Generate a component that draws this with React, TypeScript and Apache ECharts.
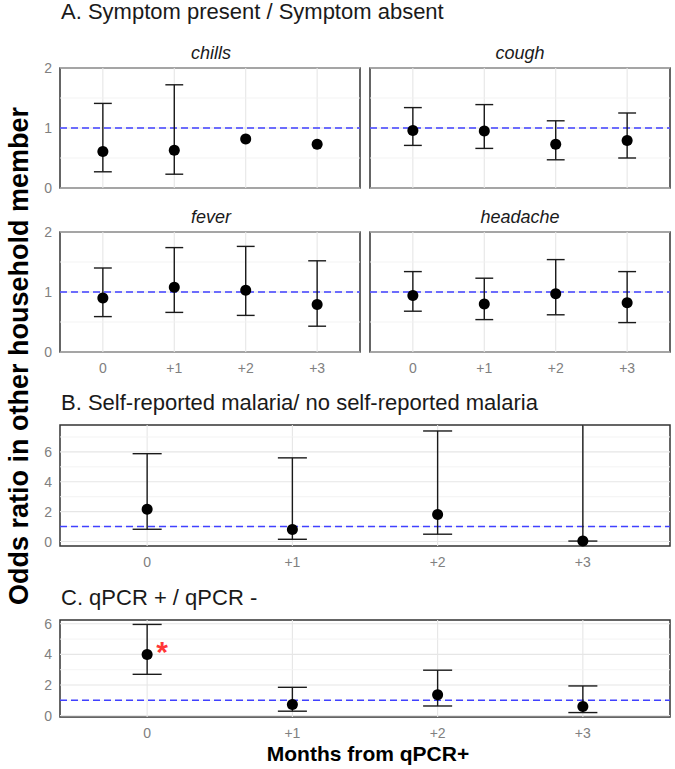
import React, { useEffect, useRef } from 'react';
import * as echarts from 'echarts';

// Months relative to the qPCR+ visit
const monthPos = [0, 1, 2, 3];
const monthLabels = ['0', '+1', '+2', '+3'];

// A. Symptom present / Symptom absent (odds ratio with 95% CI)
const chillsOR = [0.61, 0.63, 0.815, 0.73];
const chillsLow = [0.27, 0.23, null, null];
const chillsHigh = [1.41, 1.72, null, null];

const coughOR = [0.96, 0.95, 0.73, 0.79];
const coughLow = [0.71, 0.66, 0.47, 0.5];
const coughHigh = [1.34, 1.39, 1.12, 1.25];

const feverOR = [0.9, 1.08, 1.03, 0.79];
const feverLow = [0.59, 0.66, 0.61, 0.43];
const feverHigh = [1.4, 1.74, 1.76, 1.52];

const headacheOR = [0.94, 0.8, 0.97, 0.82];
const headacheLow = [0.68, 0.54, 0.62, 0.49];
const headacheHigh = [1.34, 1.23, 1.54, 1.34];

// B. Self-reported malaria / no self-reported malaria
const malariaOR = [2.16, 0.8, 1.81, 0.04];
const malariaLow = [0.82, 0.15, 0.49, 0.03];
const malariaHigh = [5.88, 5.6, 7.4, 12.0];

// C. qPCR + / qPCR -
const qpcrOR = [4.0, 0.72, 1.37, 0.59];
const qpcrLow = [2.7, 0.29, 0.63, 0.2];
const qpcrHigh = [5.96, 1.85, 2.97, 1.94];

// Significant estimates flagged with an asterisk (month, OR)
const qpcrSignificant = [[0, 4.0]];

const referenceOR = 1;

const symptomTicks = [0, 1, 2];
const wideTicks = [0, 2, 4, 6];

type Panel = {
  name: string;
  or: number[];
  low: (number | null)[];
  high: (number | null)[];
  grid: { left: number; top: number; width: number; height: number };
  yMin: number;
  yMax: number;
  yTicks: number[];
  yMinor: number[];
  showY: boolean;
  showX: boolean;
  cap: number;
};

const FONT = '"Liberation Sans", Arial, Helvetica, sans-serif';
const GRID_MAJOR = '#e6e6e6';
const GRID_MINOR = '#f2f2f2';
const TICK_COLOR = '#808080';

export default function App() {
  const ref = useRef<HTMLDivElement>(null);

  useEffect(() => {
    if (!ref.current) return;
    const chart = echarts.init(ref.current, null, { renderer: 'svg' });

    const panels: Panel[] = [
      {
        name: 'chills', or: chillsOR, low: chillsLow, high: chillsHigh,
        grid: { left: 60, top: 68, width: 300, height: 120 },
        yMin: 0, yMax: 2, yTicks: symptomTicks, yMinor: [0.5, 1.5], showY: true, showX: false, cap: 0.125,
      },
      {
        name: 'cough', or: coughOR, low: coughLow, high: coughHigh,
        grid: { left: 370, top: 68, width: 300, height: 120 },
        yMin: 0, yMax: 2, yTicks: symptomTicks, yMinor: [0.5, 1.5], showY: false, showX: false, cap: 0.125,
      },
      {
        name: 'fever', or: feverOR, low: feverLow, high: feverHigh,
        grid: { left: 60, top: 232, width: 300, height: 120 },
        yMin: 0, yMax: 2, yTicks: symptomTicks, yMinor: [0.5, 1.5], showY: true, showX: true, cap: 0.125,
      },
      {
        name: 'headache', or: headacheOR, low: headacheLow, high: headacheHigh,
        grid: { left: 370, top: 232, width: 300, height: 120 },
        yMin: 0, yMax: 2, yTicks: symptomTicks, yMinor: [0.5, 1.5], showY: false, showX: true, cap: 0.125,
      },
      {
        name: 'malaria', or: malariaOR, low: malariaLow, high: malariaHigh,
        grid: { left: 60, top: 425, width: 610, height: 121 },
        yMin: -0.3, yMax: 7.8, yTicks: wideTicks, yMinor: [1, 3, 5, 7], showY: true, showX: true, cap: 0.1,
      },
      {
        name: 'qpcr', or: qpcrOR, low: qpcrLow, high: qpcrHigh,
        grid: { left: 60, top: 620, width: 610, height: 97 },
        yMin: -0.09, yMax: 6.25, yTicks: wideTicks, yMinor: [1, 3, 5], showY: true, showX: true, cap: 0.1,
      },
    ];

    const grid: any[] = [];
    const xAxis: any[] = [];
    const yAxis: any[] = [];
    const series: any[] = [];

    panels.forEach((p, i) => {
      grid.push({
        ...p.grid,
        show: true,
        borderColor: '#333333',
        borderWidth: 1.5,
        backgroundColor: 'transparent',
        containLabel: false,
      });
      xAxis.push({
        type: 'value',
        gridIndex: i,
        min: -0.6,
        max: 3.6,
        axisLine: { show: false },
        axisTick: { show: false },
        splitLine: { show: false },
        axisLabel: {
          show: p.showX,
          customValues: monthPos,
          formatter: (v: number) => monthLabels[Math.round(v)] ?? '',
          color: TICK_COLOR,
          fontSize: 14,
          fontFamily: FONT,
          margin: 9,
        },
      });
      yAxis.push({
        type: 'value',
        gridIndex: i,
        min: p.yMin,
        max: p.yMax,
        axisLine: { show: false },
        axisTick: { show: false },
        splitLine: { show: false },
        axisLabel: {
          show: p.showY,
          customValues: p.yTicks,
          color: TICK_COLOR,
          fontSize: 14,
          fontFamily: FONT,
          margin: 8,
        },
      });

      // Panel grid lines: vertical at each month, horizontal majors and minors
      const rules: any[] = [
        ...monthPos.map((m) => [0, m, 1]),
        ...p.yTicks.map((v) => [1, v, 1]),
        ...p.yMinor.map((v) => [1, v, 0]),
      ];
      series.push({
        type: 'custom',
        xAxisIndex: i,
        yAxisIndex: i,
        z: 1,
        silent: true,
        data: rules,
        encode: { x: 1, y: 1 },
        renderItem: (params: any, api: any) => {
          const cs = params.coordSys;
          const vertical = api.value(0) === 0;
          const v = api.value(1);
          const major = api.value(2) === 1;
          const style = { stroke: major ? GRID_MAJOR : GRID_MINOR, lineWidth: major ? 1.1 : 0.9 };
          if (vertical) {
            const x = api.coord([v, p.yMin])[0];
            return { type: 'line', shape: { x1: x, y1: cs.y, x2: x, y2: cs.y + cs.height }, style };
          }
          const y = api.coord([0, v])[1];
          if (y < cs.y || y > cs.y + cs.height) return null;
          return { type: 'line', shape: { x1: cs.x, y1: y, x2: cs.x + cs.width, y2: y }, style };
        },
      });

      // Dashed reference line at OR = 1
      series.push({
        type: 'custom',
        xAxisIndex: i,
        yAxisIndex: i,
        z: 2,
        silent: true,
        data: [[0, referenceOR]],
        renderItem: (params: any, api: any) => {
          const cs = params.coordSys;
          const y = api.coord([0, api.value(1)])[1];
          return {
            type: 'line',
            shape: { x1: cs.x, y1: y, x2: cs.x + cs.width, y2: y },
            style: { stroke: '#4040ff', lineWidth: 1.5, lineDash: [7, 4] },
          };
        },
      });

      // Confidence-interval error bars
      const bars = monthPos
        .map((m, k) => [m, p.low[k], p.high[k]])
        .filter((d) => d[1] != null && d[2] != null);
      series.push({
        type: 'custom',
        xAxisIndex: i,
        yAxisIndex: i,
        z: 3,
        silent: true,
        data: bars,
        encode: { x: 0, y: [1, 2] },
        renderItem: (params: any, api: any) => {
          const cs = params.coordSys;
          const m = api.value(0);
          const lo = api.value(1);
          const hi = api.value(2);
          const x = api.coord([m, lo])[0];
          const half = api.size([p.cap, 0])[0];
          const yLo = api.coord([m, lo])[1];
          const yHiRaw = api.coord([m, hi])[1];
          const clipped = yHiRaw < cs.y;
          const yHi = clipped ? cs.y : yHiRaw;
          const style = { stroke: '#1a1a1a', lineWidth: 1.4 };
          const children: any[] = [
            { type: 'line', shape: { x1: x, y1: yLo, x2: x, y2: yHi }, style },
            { type: 'line', shape: { x1: x - half, y1: yLo, x2: x + half, y2: yLo }, style },
          ];
          if (!clipped) {
            children.push({ type: 'line', shape: { x1: x - half, y1: yHi, x2: x + half, y2: yHi }, style });
          }
          return { type: 'group', children };
        },
      });

      // Point estimates
      series.push({
        type: 'scatter',
        xAxisIndex: i,
        yAxisIndex: i,
        z: 4,
        silent: true,
        symbol: 'circle',
        symbolSize: 11,
        itemStyle: { color: '#000000', opacity: 1 },
        data: monthPos.map((m, k) => [m, p.or[k]]),
      });
    });

    // Significance marker in panel C
    series.push({
      type: 'scatter',
      xAxisIndex: 5,
      yAxisIndex: 5,
      z: 5,
      silent: true,
      symbolSize: 0,
      data: qpcrSignificant,
      label: {
        show: true,
        position: 'inside',
        offset: [15, -3],
        formatter: '*',
        color: '#ff0000',
        fontSize: 30,
        fontWeight: 'bold',
        fontFamily: FONT,
      },
    });

    const headingStyle = { fill: '#1a1a1a', fontSize: 22, fontFamily: FONT, verticalAlign: 'middle' };
    const stripStyle = { fill: '#1a1a1a', fontSize: 18, fontStyle: 'italic', fontFamily: FONT, align: 'center', verticalAlign: 'middle' };

    const graphic: any[] = [
      { type: 'text', x: 61, y: 11.5, style: { ...headingStyle, text: 'A. Symptom present / Symptom absent' } },
      { type: 'text', x: 61, y: 402.5, style: { ...headingStyle, text: 'B. Self-reported malaria/ no self-reported malaria' } },
      { type: 'text', x: 61, y: 597.5, style: { ...headingStyle, text: 'C. qPCR + / qPCR -' } },
      { type: 'text', x: 211, y: 52.5, style: { ...stripStyle, text: 'chills' } },
      { type: 'text', x: 520, y: 52.5, style: { ...stripStyle, text: 'cough' } },
      { type: 'text', x: 211, y: 216.5, style: { ...stripStyle, text: 'fever' } },
      { type: 'text', x: 520, y: 216.5, style: { ...stripStyle, text: 'headache' } },
      {
        type: 'text',
        x: 368,
        y: 753,
        style: { text: 'Months from qPCR+', fill: '#000', fontSize: 21, fontWeight: 'bold', fontFamily: FONT, align: 'center', verticalAlign: 'middle' },
      },
      {
        type: 'text',
        x: 19,
        y: 356,
        rotation: Math.PI / 2,
        style: { text: 'Odds ratio in other household member', fill: '#000', fontSize: 27, fontWeight: 'bold', fontFamily: FONT, align: 'center', verticalAlign: 'middle' },
      },
    ];

    chart.setOption({
      animation: false,
      backgroundColor: '#ffffff',
      textStyle: { fontFamily: FONT },
      grid,
      xAxis,
      yAxis,
      series,
      graphic,
    });

    return () => chart.dispose();
  }, []);

  return (
    <div
      ref={ref}
      style={{ position: 'absolute', left: 0, top: 0, width: 675, height: 769, background: '#fff' }}
    />
  );
}
